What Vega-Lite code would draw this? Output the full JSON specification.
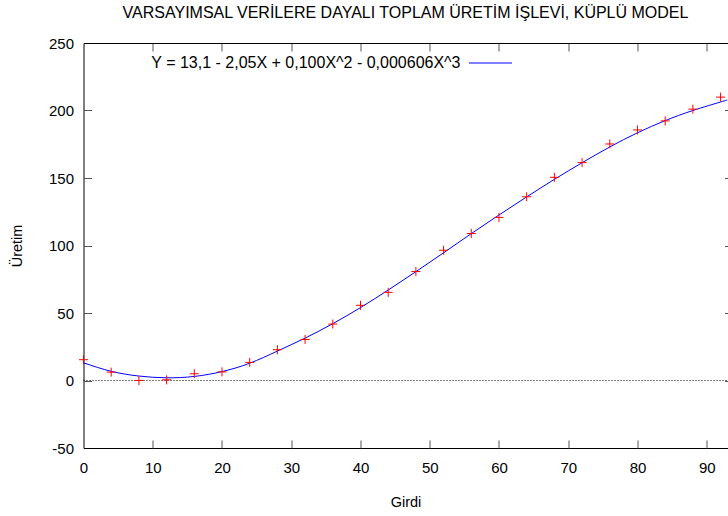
{
  "$schema": "https://vega.github.io/schema/vega-lite/v6.json",
  "width": 644,
  "height": 405,
  "autosize": "none",
  "padding": {"left": 83.5, "top": 43, "right": 0, "bottom": 68},
  "background": "white",
  "title": {
    "text": "VARSAYIMSAL VERİLERE DAYALI TOPLAM ÜRETİM İŞLEVİ, KÜPLÜ MODEL",
    "font": "Liberation Sans",
    "fontSize": 16,
    "fontWeight": "normal",
    "color": "black",
    "anchor": "middle",
    "offset": 15
  },
  "config": {
    "view": {"stroke": null},
    "axis": {
      "labelFont": "Liberation Sans",
      "labelFontSize": 15,
      "labelColor": "black",
      "labelFlush": false,
      "titleFont": "Liberation Sans",
      "titleFontSize": 14.5,
      "titleFontWeight": "normal",
      "titleColor": "black",
      "domainColor": "black",
      "domainWidth": 1,
      "tickColor": "#555555",
      "tickWidth": 1,
      "grid": false
    }
  },
  "datasets": {
    "curve": [
      {"x": 0, "y": 13.1, "series": "Y = 13,1 - 2,05X + 0,100X^2 - 0,000606X^3"},
      {"x": 4, "y": 6.8, "series": "Y = 13,1 - 2,05X + 0,100X^2 - 0,000606X^3"},
      {"x": 8, "y": 3.3, "series": "Y = 13,1 - 2,05X + 0,100X^2 - 0,000606X^3"},
      {"x": 12, "y": 2.0, "series": "Y = 13,1 - 2,05X + 0,100X^2 - 0,000606X^3"},
      {"x": 16, "y": 3.0, "series": "Y = 13,1 - 2,05X + 0,100X^2 - 0,000606X^3"},
      {"x": 20, "y": 6.6, "series": "Y = 13,1 - 2,05X + 0,100X^2 - 0,000606X^3"},
      {"x": 24, "y": 12.8, "series": "Y = 13,1 - 2,05X + 0,100X^2 - 0,000606X^3"},
      {"x": 28, "y": 21.8, "series": "Y = 13,1 - 2,05X + 0,100X^2 - 0,000606X^3"},
      {"x": 32, "y": 31.4, "series": "Y = 13,1 - 2,05X + 0,100X^2 - 0,000606X^3"},
      {"x": 36, "y": 42.1, "series": "Y = 13,1 - 2,05X + 0,100X^2 - 0,000606X^3"},
      {"x": 40, "y": 54.0, "series": "Y = 13,1 - 2,05X + 0,100X^2 - 0,000606X^3"},
      {"x": 44, "y": 67.0, "series": "Y = 13,1 - 2,05X + 0,100X^2 - 0,000606X^3"},
      {"x": 48, "y": 80.6, "series": "Y = 13,1 - 2,05X + 0,100X^2 - 0,000606X^3"},
      {"x": 52, "y": 94.6, "series": "Y = 13,1 - 2,05X + 0,100X^2 - 0,000606X^3"},
      {"x": 56, "y": 108.8, "series": "Y = 13,1 - 2,05X + 0,100X^2 - 0,000606X^3"},
      {"x": 60, "y": 122.6, "series": "Y = 13,1 - 2,05X + 0,100X^2 - 0,000606X^3"},
      {"x": 64, "y": 136.0, "series": "Y = 13,1 - 2,05X + 0,100X^2 - 0,000606X^3"},
      {"x": 68, "y": 149.0, "series": "Y = 13,1 - 2,05X + 0,100X^2 - 0,000606X^3"},
      {"x": 72, "y": 161.3, "series": "Y = 13,1 - 2,05X + 0,100X^2 - 0,000606X^3"},
      {"x": 76, "y": 173.0, "series": "Y = 13,1 - 2,05X + 0,100X^2 - 0,000606X^3"},
      {"x": 80, "y": 183.5, "series": "Y = 13,1 - 2,05X + 0,100X^2 - 0,000606X^3"},
      {"x": 84, "y": 192.5, "series": "Y = 13,1 - 2,05X + 0,100X^2 - 0,000606X^3"},
      {"x": 88, "y": 200.0, "series": "Y = 13,1 - 2,05X + 0,100X^2 - 0,000606X^3"},
      {"x": 92, "y": 206.3, "series": "Y = 13,1 - 2,05X + 0,100X^2 - 0,000606X^3"},
      {"x": 93, "y": 207.8, "series": "Y = 13,1 - 2,05X + 0,100X^2 - 0,000606X^3"}
    ],
    "points": [
      {"x": 0, "y": 15.4}, {"x": 4, "y": 6.2}, {"x": 8, "y": 0.0}, {"x": 12, "y": 0.5},
      {"x": 16, "y": 5.0}, {"x": 20, "y": 6.4}, {"x": 24, "y": 13.4}, {"x": 28, "y": 22.8},
      {"x": 32, "y": 30.4}, {"x": 36, "y": 41.8}, {"x": 40, "y": 55.7}, {"x": 44, "y": 65.3},
      {"x": 48, "y": 80.7}, {"x": 52, "y": 96.5}, {"x": 56, "y": 108.9}, {"x": 60, "y": 120.8},
      {"x": 64, "y": 136.1}, {"x": 68, "y": 150.5}, {"x": 72, "y": 161.4}, {"x": 76, "y": 175.2},
      {"x": 80, "y": 185.6}, {"x": 84, "y": 192.3}, {"x": 88, "y": 201.0}, {"x": 92, "y": 209.9}
    ]
  },
  "resolve": {"axis": {"x": "independent", "y": "independent"}},
  "layer": [
    {
      "data": {"values": [{"zero": 0, "from": 0, "to": 93}]},
      "mark": {"type": "rule", "color": "black", "strokeWidth": 1, "strokeDash": [1, 2]},
      "encoding": {
        "x": {
          "field": "from", "type": "quantitative",
          "scale": {"domain": [0, 93], "nice": false, "zero": false},
          "axis": {"orient": "bottom", "title": "Girdi", "values": [0, 10, 20, 30, 40, 50, 60, 70, 80, 90], "ticks": false, "labelPadding": 12, "titlePadding": 20, "domain": true}
        },
        "x2": {"field": "to"},
        "y": {
          "field": "zero", "type": "quantitative",
          "scale": {"domain": [-50, 250], "nice": false, "zero": false},
          "axis": {"orient": "left", "title": "Üretim", "values": [-50, 0, 50, 100, 150, 200, 250], "labelExpr": "'' + datum.value", "ticks": false, "labelPadding": 10, "titlePadding": 24, "domain": true}
        }
      }
    },
    {
      "data": {"name": "curve"},
      "mark": {"type": "line", "strokeWidth": 1, "interpolate": "natural", "clip": true},
      "encoding": {
        "x": {
          "field": "x", "type": "quantitative",
          "scale": {"domain": [0, 93], "nice": false, "zero": false},
          "axis": {"orient": "top", "offset": -405, "title": null, "labels": false, "domain": false, "values": [10, 20, 30, 40, 50, 60, 70, 80, 90], "tickSize": 8}
        },
        "y": {
          "field": "y", "type": "quantitative",
          "scale": {"domain": [-50, 250], "nice": false, "zero": false},
          "axis": {"orient": "right", "offset": -644, "title": null, "labels": false, "domain": false, "values": [0, 50, 100, 150, 200], "tickSize": 8}
        },
        "color": {
          "field": "series", "type": "nominal",
          "scale": {"range": ["#0000ff"]},
          "legend": {
            "title": null,
            "orient": "none",
            "legendX": 385,
            "legendY": -2,
            "padding": 0,
            "symbolType": "stroke",
            "symbolSize": 1849,
            "symbolStrokeWidth": 1,
            "labelAlign": "right",
            "labelOffset": -52,
            "labelFont": "Liberation Sans",
            "labelFontSize": 16,
            "labelColor": "black",
            "labelLimit": 600
          }
        }
      }
    },
    {
      "data": {"name": "points"},
      "mark": {"type": "point", "shape": "M-1,0H1M0,-1V1", "filled": false, "color": "#ff0000", "strokeWidth": 1, "size": 81, "opacity": 1},
      "encoding": {
        "x": {
          "field": "x", "type": "quantitative",
          "scale": {"domain": [0, 93], "nice": false, "zero": false},
          "axis": {"orient": "bottom", "offset": -405, "title": null, "labels": false, "domain": true, "values": [10, 20, 30, 40, 50, 60, 70, 80, 90], "tickSize": 8}
        },
        "y": {
          "field": "y", "type": "quantitative",
          "scale": {"domain": [-50, 250], "nice": false, "zero": false},
          "axis": {"orient": "left", "offset": -644, "title": null, "labels": false, "domain": false, "values": [0, 50, 100, 150, 200], "tickSize": 3}
        }
      }
    }
  ]
}
